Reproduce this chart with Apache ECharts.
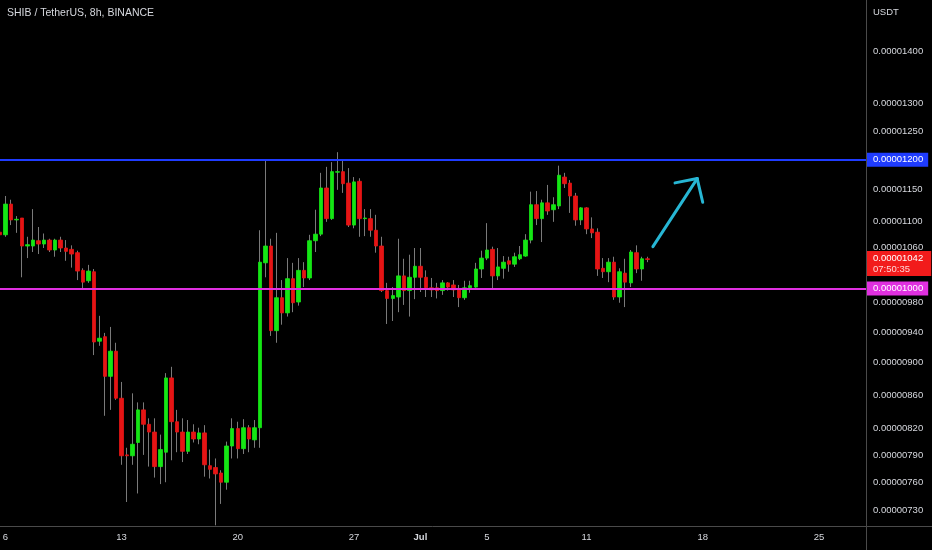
<!DOCTYPE html>
<html>
<head>
<meta charset="utf-8">
<script src="https://cdn.jsdelivr.net/npm/echarts@6/dist/echarts.min.js"></script>
<style>
html,body{margin:0;padding:0;background:#000;}
#c{width:932px;height:550px;}
</style>
</head>
<body>
<div id="c"></div>
<script>
// Prices are in units of 1e-8 USDT (1042 = 0.00001042)
// 8h candles, first one = 2021-06-05 16:00
const firstCandle = Date.UTC(2021, 5, 5, 16);
const slotCount = 157; // visible 8h slots incl. empty future area

const opens = [1083,1079,1127,1102,1105,1062,1062,1070,1065,1071,1056,1071,1059,1057,1052,1026,1011,1024,928,934,883,915,856,790,789,804,842,825,816,777,793,881,828,816,794,816,808,815,778,776,770,760,800,820,797,821,807,821,1037,1062,942,987,966,1014,981,1026,1015,1070,1080,1153,1104,1179,1180,1161,1094,1164,1104,1104,1086,1062,997,986,988,1018,997,1016,1032,1016,1001,1001,997,1008,1005,998,987,1001,1002,1028,1044,1057,1018,1029,1040,1035,1043,1047,1071,1126,1104,1129,1118,1124,1171,1161,1140,1102,1121,1088,1083,1029,1024,1038,988,1022,1008,1052,1028,1043];
const closes = [1079,1127,1102,1103,1062,1064,1071,1065,1071,1056,1071,1059,1054,1050,1025,1009,1025,927,932,883,915,856,789,789,802,842,825,816,777,796,881,828,816,794,816,808,815,779,774,769,760,800,820,797,821,808,821,1038,1062,942,987,966,1014,980,1026,1015,1070,1080,1153,1104,1180,1180,1160,1094,1163,1104,1105,1086,1062,997,986,990,1018,997,1016,1032,1016,1001,998,997,1008,1002,998,987,1001,1004,1028,1044,1056,1018,1031,1038,1035,1046,1049,1071,1126,1104,1129,1116,1126,1174,1160,1140,1102,1121,1088,1082,1028,1024,1038,988,1024,1009,1053,1028,1043,1042];
const highs = [1097,1140,1134,1108,1105,1076,1119,1091,1081,1073,1073,1076,1071,1063,1055,1029,1034,1028,962,939,947,926,876,798,862,851,851,832,832,813,887,895,842,832,830,825,821,824,796,786,773,805,832,828,831,824,830,1086,1198,1073,1082,1012,1044,1037,1044,1038,1079,1118,1178,1188,1196,1213,1198,1186,1171,1169,1119,1119,1110,1076,1008,1002,1073,1043,1049,1059,1059,1026,1015,1008,1012,1009,1012,1005,1011,1011,1037,1055,1097,1061,1059,1047,1046,1052,1062,1080,1147,1148,1134,1158,1138,1190,1178,1166,1145,1122,1122,1106,1089,1044,1044,1046,1029,1043,1056,1063,1046,1046];
const lows = [1076,1076,1094,1082,1016,1044,1053,1050,1059,1053,1046,1053,1040,1030,1012,998,1008,910,922,835,842,854,779,739,779,748,790,777,765,758,760,784,793,782,791,804,802,766,764,715,737,752,786,786,791,793,798,798,1016,935,926,950,961,967,976,1002,1012,1053,1077,1099,1102,1150,1145,1091,1089,1076,1077,1076,1052,995,951,955,967,977,961,985,995,988,988,986,991,997,988,974,984,994,1001,1015,1041,998,1012,1014,1024,1031,1041,1046,1066,1094,1068,1110,1099,1119,1153,1113,1093,1094,1080,1074,1018,1015,1009,984,980,974,1002,1022,1011,1038];

const xTickDates = ['2021-06-06','2021-06-13','2021-06-20','2021-06-27','2021-07-01','2021-07-05','2021-07-11','2021-07-18','2021-07-25'];
const xTickLabels = ['6','13','20','27','Jul','5','11','18','25'];
const yTickValues = [730,760,790,820,860,900,940,980,1060,1100,1150,1250,1300,1400];
const yMin = 714.3, yMax = 1504.8;

const resistanceLevel = 1200;
const supportLevel = 1000;
const lastPrice = 1042;
const countdown = '07:50:35';

// hand-drawn arrow: [category index, price]
const arrowTail = [118, 1061];
const arrowTip = [126, 1168.5];
const arrowWingA = [122, 1161.4];
const arrowWingB = [127, 1129.9];

const pad = n => (n < 10 ? '0' : '') + n;
const categories = [];
for (let i = 0; i < slotCount; i++) {
  const d = new Date(firstCandle + i * 8 * 3600 * 1000);
  categories.push(d.getUTCFullYear() + '-' + pad(d.getUTCMonth() + 1) + '-' + pad(d.getUTCDate()) + ' ' + pad(d.getUTCHours()) + ':00');
}
const labelMap = {};
xTickDates.forEach((d, i) => { labelMap[d + ' 00:00'] = xTickLabels[i]; });

const FONT = '"Liberation Sans", Arial, sans-serif';
const TXT = '#d6d8de';
const AX = '#4a4a4a';
const UP = '#14e614', DOWN = '#e61414', WICK = '#7a7a7a';
const fmt = v => (v * 1e-8).toFixed(8);

const wickData = opens.map((o, i) => [o, closes[i], lows[i], highs[i]]);
const bodyData = opens.map((o, i) => [o, closes[i], Math.min(o, closes[i]), Math.max(o, closes[i])]);

const boxLabel = (bg) => ({
  show: true, position: 'end', distance: 1,
  formatter: p => fmt(p.value),
  backgroundColor: bg, color: '#ffffff', padding: [2, 5, 1, 6],
  fontSize: 9.5, fontFamily: FONT, lineHeight: 11
});

const chart = echarts.init(document.getElementById('c'), null, {renderer: 'canvas'});
chart.setOption({
  backgroundColor: '#000000',
  animation: false,
  title: [
    {text: 'SHIB / TetherUS, 8h, BINANCE', left: 7, top: 8, padding: 0,
     textStyle: {color: TXT, fontSize: 10.5, fontWeight: 'normal', fontFamily: FONT}},
    {text: 'USDT', left: 873, top: 7, padding: 0,
     textStyle: {color: TXT, fontSize: 9.5, fontWeight: 'normal', fontFamily: FONT}}
  ],
  grid: {left: -3, right: 66, top: 0, bottom: 24, containLabel: false, outerBoundsMode: 'none'},
  xAxis: {
    type: 'category', data: categories, boundaryGap: true,
    axisLine: {lineStyle: {color: AX, width: 1}},
    axisTick: {show: false}, splitLine: {show: false},
    axisLabel: {
      interval: (i, v) => labelMap[v] !== undefined,
      formatter: v => (labelMap[v] === 'Jul' ? '{b|Jul}' : (labelMap[v] || '')),
      color: TXT, fontSize: 9.5, fontFamily: FONT, margin: 6,
      rich: {b: {fontWeight: 'bold', fontSize: 9.5, color: TXT, fontFamily: FONT}}
    }
  },
  yAxis: {
    type: 'log', logBase: 10, position: 'right', min: yMin, max: yMax,
    axisLine: {show: true, lineStyle: {color: AX, width: 1}},
    axisTick: {show: false}, splitLine: {show: false}, minorTick: {show: false}, minorSplitLine: {show: false},
    axisLabel: {customValues: yTickValues, formatter: v => fmt(v), color: TXT, fontSize: 9.5, fontFamily: FONT, margin: 7}
  },
  graphic: [
    {type: 'line', silent: true, shape: {x1: 866, y1: 526.5, x2: 932, y2: 526.5}, style: {stroke: AX, lineWidth: 1}},
    {type: 'line', silent: true, shape: {x1: 866.5, y1: 526, x2: 866.5, y2: 550}, style: {stroke: AX, lineWidth: 1}}
  ],
  series: [
    {
      name: 'wicks', type: 'candlestick', data: wickData, barWidth: 1,
      itemStyle: {color: WICK, color0: WICK, borderColor: WICK, borderColor0: WICK, borderColorDoji: WICK, borderWidth: 1},
      markLine: {
        silent: true, symbol: ['none', 'none'], label: {show: false},
        lineStyle: {color: '#27b6d4', width: 3, type: 'solid', cap: 'round'},
        emphasis: {disabled: true},
        data: [
          [{coord: arrowTail}, {coord: arrowTip}],
          [{coord: arrowWingA}, {coord: arrowTip}],
          [{coord: arrowWingB}, {coord: arrowTip}]
        ]
      }
    },
    {
      name: 'SHIBUSDT', type: 'candlestick', data: bodyData, barWidth: 4,
      itemStyle: {color: UP, color0: DOWN, borderColor: UP, borderColor0: DOWN, borderColorDoji: '#999', borderWidth: 0.8},
      markLine: {
        silent: true, symbol: ['none', 'none'], emphasis: {disabled: true},
        data: [
          {yAxis: resistanceLevel, lineStyle: {color: '#1f3cff', width: 2, type: 'solid'}, label: boxLabel('#1f3cff')},
          {yAxis: supportLevel, lineStyle: {color: '#e030e0', width: 2, type: 'solid'}, label: boxLabel('#e030e0')},
          {yAxis: lastPrice, lineStyle: {color: 'rgba(0,0,0,0)', width: 1, type: 'solid'}, label: {
            show: true, position: 'end', distance: 1, offset: [0, 4],
            formatter: () => '{a|' + fmt(lastPrice) + '}\n{b|' + countdown + '}',
            backgroundColor: '#f21b1b', padding: [2, 8, 1, 6],
            rich: {
              a: {color: '#ffffff', fontSize: 9.5, fontFamily: FONT, lineHeight: 11},
              b: {color: '#ffd6d6', fontSize: 9.5, fontFamily: FONT, lineHeight: 11}
            }
          }}
        ]
      }
    }
  ]
});
</script>
</body>
</html>
